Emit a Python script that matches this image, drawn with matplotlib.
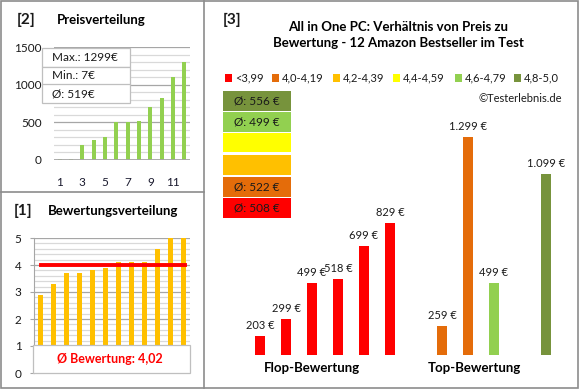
import numpy as np
import matplotlib
matplotlib.use('Agg')
import matplotlib.pyplot as plt
from matplotlib.patches import Rectangle
from matplotlib.lines import Line2D

plt.rcParams['font.family'] = ['Lato', 'DejaVu Sans']

# panel [2] / [1]: all 12 products sorted
product_no = list(range(1, 13))
prices_sorted = [7, 13, 203, 259, 299, 499, 499, 518, 699, 829, 1099, 1299]
ratings_sorted = [2.9, 3.3, 3.7, 3.7, 3.8, 3.9, 4.1, 4.1, 4.1, 4.6, 5.0, 5.0]

# panel [3]: flop 6 then top 6
p3_prices = [203, 299, 499, 518, 699, 829, 7, 259, 1299, 499, 13, 1099]
p3_ratings = [2.9, 3.3, 3.7, 3.7, 3.8, 3.9, 4.1, 4.1, 4.1, 4.6, 5.0, 5.0]
group_labels = ['Flop-Bewertung', 'Top-Bewertung']

class_labels = ['<3,99', '4,0-4,19', '4,2-4,39', '4,4-4,59', '4,6-4,79', '4,8-5,0']
class_lower = [0.0, 4.0, 4.2, 4.4, 4.6, 4.8]
class_colors = ['#FF0000', '#E46C0A', '#FFC000', '#FFFF00', '#92D050', '#77933C']

W, H = 580, 390
GRID_MAJ = '#A6A6A6'
GRID_MIN = '#D9D9D9'
FRAME = '#8C8C8C'


def rect(x0, y0, x1, y1):
    return [x0 / W, 1 - y1 / H, (x1 - x0) / W, (y1 - y0) / H]


def fx(px):
    return px / W


def fy(py):
    return 1 - py / H


def eur(v):
    return f'{v:,}'.replace(',', '.') + ' €'


fig = plt.figure(figsize=(5.8, 3.9), dpi=100)
fig.patch.set_facecolor('white')

# frame and dividers
fig.add_artist(Rectangle((fx(1), fy(388)), fx(577), 387 / H, transform=fig.transFigure,
                         fill=False, edgecolor=FRAME, lw=1.2))
fig.add_artist(Line2D([fx(203.5)] * 2, [fy(1), fy(388)], transform=fig.transFigure, color=FRAME, lw=1.2))
fig.add_artist(Line2D([fx(1), fx(203.5)], [fy(192)] * 2, transform=fig.transFigure, color=FRAME, lw=1.2))

# ---- panel [2] Preisverteilung ----
ax2 = fig.add_axes(rect(54, 47, 190, 160))
ax2.bar(product_no, prices_sorted, width=0.38, color='#92D050', zorder=3)
ax2.axhline(0, color=GRID_MAJ, lw=1.3, zorder=4)
ax2.set_xlim(0.5, 12.5)
ax2.set_ylim(0, 1500)
ax2.set_yticks([0, 500, 1000, 1500])
ax2.set_yticks(np.arange(0, 1501, 100), minor=True)
ax2.grid(axis='y', which='minor', color=GRID_MIN, lw=0.9, zorder=0)
ax2.grid(axis='y', which='major', color=GRID_MAJ, lw=0.9, zorder=1)
ax2.set_xticks(product_no[::2])
for s in ax2.spines.values():
    s.set_visible(False)
ax2.tick_params(axis='y', which='both', length=0, pad=9, labelsize=8.5, labelcolor='#1a1a1a')
ax2.tick_params(axis='x', length=0, pad=12, labelsize=8.5, labelcolor='#1a1a2e')

fig.text(fx(17), fy(20), '[2]', fontsize=11, fontweight='bold', va='center', color='#1a1a1a')
fig.text(fx(57), fy(20), 'Preisverteilung', fontsize=9.5, fontweight='bold', va='center')

stats = [f'Max.: {max(prices_sorted)}€', f'Min.: {min(prices_sorted)}€',
         f'Ø: {round(np.mean(prices_sorted))}€']
row_edges = [48, 67, 84.5, 103]
for k, txt in enumerate(stats):
    y0, y1 = row_edges[k], row_edges[k + 1]
    fig.add_artist(Rectangle((fx(42), fy(y1)), (130 - 42) / W, (y1 - y0) / H, transform=fig.transFigure,
                             facecolor='white', edgecolor='#BFBFBF', lw=0.9, zorder=5))
    fig.text(fx(52), fy((y0 + y1) / 2), txt, fontsize=8.5, va='center', zorder=6, color='#1a1a1a')

# ---- panel [1] Bewertungsverteilung ----
ax1 = fig.add_axes(rect(34, 238, 190, 373))
ax1.bar(product_no, ratings_sorted, width=0.46, color='#FFC000', zorder=3)
avg_rating = np.mean(ratings_sorted)
ax1.plot([product_no[0], product_no[-1] + 0.1], [avg_rating, avg_rating], color='#FF0000', lw=2.8, zorder=4)
ax1.set_xlim(0.5, 12.5)
ax1.set_ylim(0, 5)
ax1.set_yticks(range(6))
ax1.set_yticks(np.arange(0, 5.01, 0.2), minor=True)
ax1.grid(axis='y', which='minor', color=GRID_MIN, lw=0.9, zorder=0)
ax1.grid(axis='y', which='major', color=GRID_MAJ, lw=0.9, zorder=1)
ax1.set_xticks([])
for name, s in ax1.spines.items():
    s.set_visible(name == 'left')
ax1.spines['left'].set_color(GRID_MAJ)
ax1.tick_params(axis='y', which='major', length=3, color=GRID_MAJ, pad=6, labelsize=8.5, labelcolor='#1a1a1a')
ax1.tick_params(axis='y', which='minor', length=0)

ax1.add_patch(Rectangle((-0.006, 0), 1.006, 1.04 / 5, transform=ax1.transAxes, facecolor='white',
                        edgecolor='#BFBFBF', lw=0.9, zorder=6, clip_on=False))
ax1.text(0.487, 0.104, 'Ø Bewertung: ' + f'{avg_rating:.2f}'.replace('.', ','), transform=ax1.transAxes,
         ha='center', va='center', color='#FF0000', fontsize=9, fontweight='bold', zorder=7)

fig.text(fx(14), fy(211), '[1]', fontsize=11, fontweight='bold', va='center', color='#1a1a1a')
fig.text(fx(48), fy(211), 'Bewertungsverteilung', fontsize=9.5, fontweight='bold', va='center')

# ---- panel [3] Preis zu Bewertung ----
cls = [int(np.searchsorted(class_lower, r, side='right')) - 1 for r in p3_ratings]
ax3 = fig.add_axes(rect(247, 119, 559, 355))
x3 = np.arange(len(p3_prices))
ax3.bar(x3, p3_prices, width=0.4, color=[class_colors[c] for c in cls], zorder=3)
ax3.set_xlim(-0.5, 11.5)
ax3.set_ylim(100, 1400)
for xi, v in zip(x3, p3_prices):
    ax3.annotate(eur(v), (xi, v), xytext=(0, 3.5), textcoords='offset points',
                 ha='center', va='bottom', fontsize=8, color='#1a1a1a')
ax3.set_yticks([])
ax3.set_xticks([2.0, 8.25], group_labels)
ax3.tick_params(axis='x', length=0, pad=5, labelsize=9.5)
for lab in ax3.get_xticklabels():
    lab.set_fontweight('bold')
for s in ax3.spines.values():
    s.set_visible(False)

fig.text(fx(223), fy(20), '[3]', fontsize=11, fontweight='bold', va='center', color='#1a1a1a')
fig.text(fx(398), fy(35), 'All in One PC: Verhältnis von Preis zu\nBewertung - 12 Amazon Bestseller im Test',
         ha='center', va='center', fontsize=9.5, fontweight='bold', linespacing=1.45)

# legend row
leg_x = [225, 272, 333, 393, 455, 514]
for lx, lab, col in zip(leg_x, class_labels, class_colors):
    fig.add_artist(Rectangle((fx(lx), fy(81.5)), 7 / W, 7 / H, transform=fig.transFigure,
                             facecolor=col, edgecolor='none'))
    fig.text(fx(lx + 10), fy(78), lab, fontsize=8, va='center', color='#1a1a1a')

fig.text(fx(562), fy(98), '©Testerlebnis.de', fontsize=8, ha='right', va='center', color='#1a1a1a')

# class average boxes (top = best class)
box_top = [91, 112, 133, 155, 177, 198]
for k, top in enumerate(box_top):
    c = len(class_labels) - 1 - k
    vals = [p for p, ci in zip(p3_prices, cls) if ci == c]
    fig.add_artist(Rectangle((fx(223), fy(top + 19.5)), 68 / W, 19.5 / H, transform=fig.transFigure,
                             facecolor=class_colors[c], edgecolor='none'))
    if vals:
        fig.text(fx(257), fy(top + 10), f'Ø: {round(np.mean(vals))} €', fontsize=8.5,
                 ha='center', va='center', color='#1a1a1a')

fig.savefig('out.png', dpi=100)
